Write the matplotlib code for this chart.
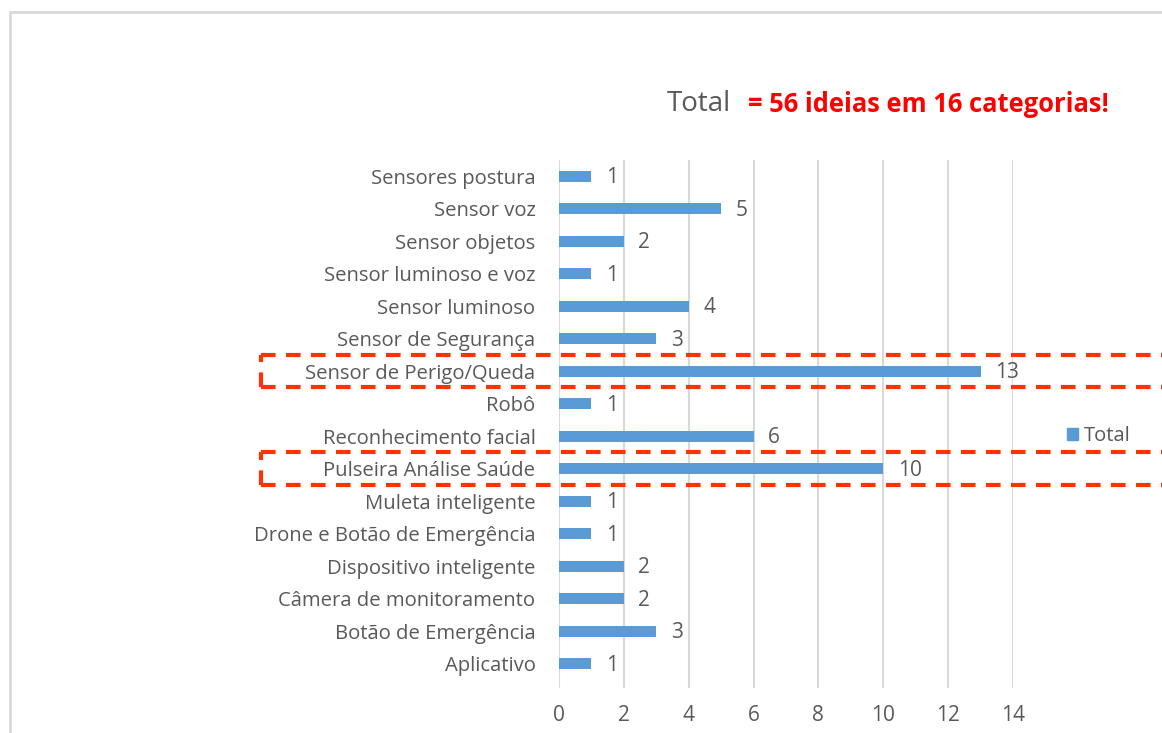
import numpy as np
import matplotlib.pyplot as plt
from matplotlib.patches import Rectangle
from matplotlib.lines import Line2D

categories = ["Aplicativo", "Botão de Emergência", "Câmera de monitoramento",
              "Dispositivo inteligente", "Drone e Botão de Emergência",
              "Muleta inteligente", "Pulseira Análise Saúde", "Reconhecimento facial",
              "Robô", "Sensor de Perigo/Queda", "Sensor de Segurança",
              "Sensor luminoso", "Sensor luminoso e voz", "Sensor objetos",
              "Sensor voz", "Sensores postura"]
totals = [1, 3, 2, 2, 1, 1, 10, 6, 1, 13, 3, 4, 1, 2, 5, 1]
highlighted = ["Sensor de Perigo/Queda", "Pulseira Análise Saúde"]
xticks = [0, 2, 4, 6, 8, 10, 12, 14]

BLUE = "#5B9BD5"
GRAY = "#595959"
GRID = "#D9D9D9"
RED = "#FF3300"

plt.rcParams['font.family'] = ['Open Sans', 'DejaVu Sans']

W, H = 1162, 733
fig = plt.figure(figsize=(W / 100, H / 100), dpi=100)

# outer frame (partially cropped in the original)
fig.add_artist(Rectangle((10 / W, -0.1), 1.2, (H - 12) / H + 0.1, transform=fig.transFigure,
                         fill=False, edgecolor="#D9D9D9", linewidth=2))

ax = fig.add_axes([559 / W, 1 - 688 / H, (1013 - 559) / W, (688 - 160) / H])
y = np.arange(len(categories))
ax.barh(y, totals, height=0.34, color=BLUE)
for yi, v in zip(y, totals):
    ax.text(v + 0.45, yi - 0.05, str(v), va="center", ha="left", fontsize=15, color=GRAY)

ax.set_xlim(0, 14)
ax.set_ylim(-0.75, 15.5)
ax.set_xticks(xticks)
ax.set_yticks(y)
ax.set_yticklabels(categories, fontsize=14.6, color=GRAY)
ax.tick_params(axis="x", labelsize=15, colors=GRAY, length=0, pad=12)
ax.tick_params(axis="y", length=0, pad=17)
for s in ax.spines.values():
    s.set_visible(False)
ax.grid(axis="x", color=GRID, linewidth=1.5)
ax.set_axisbelow(True)

# legend
ax.legend(handles=[Rectangle((0, 0), 1, 1, color=BLUE)], labels=["Total"],
          loc="center left", bbox_to_anchor=(1067 / W, 1 - 436 / H),
          bbox_transform=fig.transFigure, frameon=False, fontsize=14.5,
          handlelength=0.55, handleheight=0.55, handletextpad=0.3,
          labelcolor=GRAY, borderpad=0, borderaxespad=0)

# title
fig.text(731 / W, 1 - 104 / H, "Total", ha="right", va="center", fontsize=20, color=GRAY)
fig.text(748 / W, 1 - 104 / H, "= 56 ideias em 16 categorias!", ha="left", va="center",
         fontsize=18.4, color="red", fontweight="bold")

# dashed highlight boxes
for name in highlighted:
    yi = categories.index(name)
    y0 = ax.transData.transform((0, yi - 0.5))[1]
    y1 = ax.transData.transform((0, yi + 0.5))[1]
    x0 = 261
    for xs, ys in [([x0, W + 5], [y0, y0]), ([x0, W + 5], [y1, y1]), ([x0, x0], [y0, y1])]:
        fig.add_artist(Line2D([v / W for v in xs], [v / H for v in ys], transform=fig.transFigure,
                              color=RED, linewidth=3, linestyle=(0, (3.5, 2.5))))

fig.savefig("out.png", dpi=100)
